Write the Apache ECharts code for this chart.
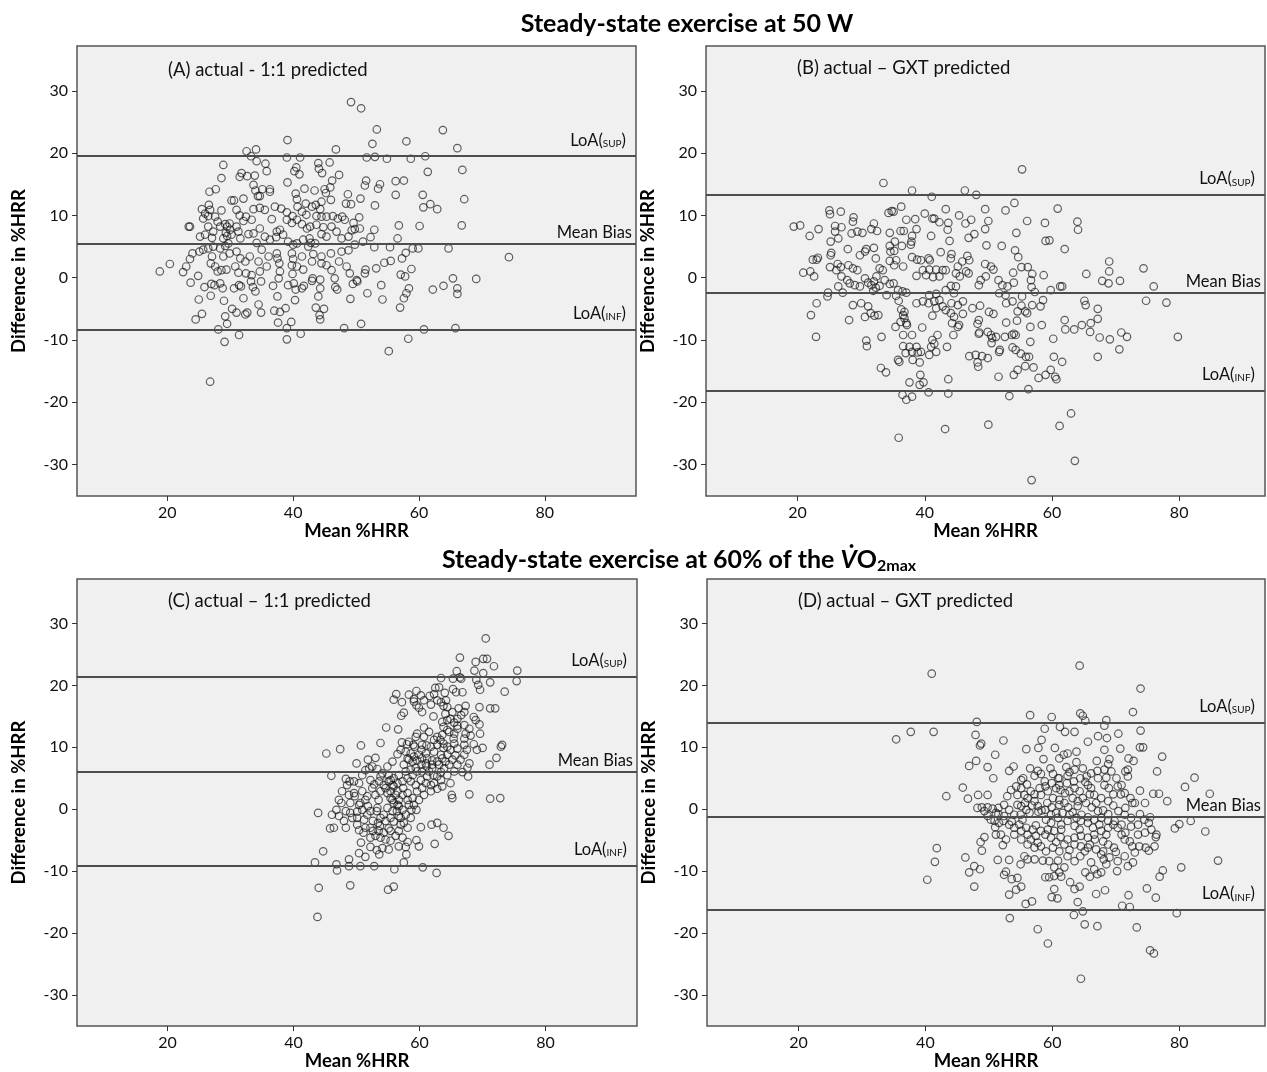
<!DOCTYPE html>
<html><head><meta charset="utf-8">
<script src="https://cdn.jsdelivr.net/npm/echarts@6/dist/echarts.min.js"></script>
<style>html,body{margin:0;padding:0;background:#fff}#c{width:1267px;height:1072px}</style>
</head><body><div id="c"></div>
<script>
// ---------- DATA ----------
const titleTop = 'Steady-state exercise at 50 W';
const panelTitles = ['(A) actual - 1:1 predicted', '(B) actual \u2013 GXT predicted', '(C) actual \u2013 1:1 predicted', '(D) actual \u2013 GXT predicted'];
const xTicks = [20, 40, 60, 80];
const yTicks = [-30, -20, -10, 0, 10, 20, 30];
const lineNames = ['sup', 'mean', 'inf'];
const linesA = [19.5, 5.5, -8.3];
const linesB = [13.3, -2.4, -18.1];
const linesC = [21.4, 6.1, -9.1];
const linesD = [14.0, -1.2, -16.3];

// [mean %HRR, difference in %HRR]
const panelA = [
[49.2,28.2],[50.8,27.2],[53.3,23.8],[52.6,21.5],[58.0,21.9],[39.1,22.1],[63.8,23.7],[66.1,20.8],[66.9,17.3],[67.2,12.6],[66.8,8.4],[64.7,4.7],[74.3,3.3],[69.1,-0.2],[65.4,-0.1],
[66.1,-1.7],[66.1,-2.6],[63.9,-1.3],[62.2,-1.9],[65.8,-8.1],[60.8,-8.3],[58.3,-9.8],[55.2,-11.8],[57.0,-4.8],[57.6,-3.3],[58.0,-2.5],[58.4,-1.7],[54.2,-3.5],[54.0,-1.2],[51.8,-2.5],[49.1,-3.4],[50.8,-7.4],[48.1,-8.1],[47.0,-1.9],[46.7,-1.5],[44.9,-5.0],[44.3,-6.7],[44.2,-6.0],[43.6,-4.8],[44.0,-3.0],[44.3,-1.7],[41.2,-9.0],[39.0,-9.9],[39.0,-8.1],[39.7,-7.1],[37.6,-7.2],[37.9,-5.5],[38.8,-4.9],[37.0,-5.3],[37.5,-3.0],[40.3,-3.6],[34.9,-5.6],[34.5,-4.3],[32.4,-5.9],[32.7,-5.6],[31.0,-5.6],[30.3,-5.0],[32.1,-3.3],[34.0,-2.2],[31.4,-9.2],[29.5,-7.4],[29.2,-6.2],[29.0,-3.7],[29.1,-10.3],[28.1,-8.3],[26.8,-16.7],[26.9,-2.9],[25.0,-3.5],[25.5,-5.8],[24.5,-6.7],[23.7,-0.8],
[25.9,-1.5],[27.0,-1.0],[27.5,-1.2],[28.4,-0.9],[28.8,-1.7],[30.6,-1.7],[31.4,-1.2],[31.7,-1.4],[33.3,-0.6],[33.6,-1.5],[34.9,-0.6],[36.8,-1.3],[39.2,-1.2],[40.1,-0.9],[40.4,-1.9],[41.4,-1.7],[41.7,-1.3],[43.0,-0.5],[50.2,-0.6],[49.5,-1.0],
[32.6,20.3],[34.1,20.6],[33.3,19.5],[34.2,18.7],[28.9,18.1],[35.6,18.3],[35.8,17.1],[39.0,19.3],[41.1,19.3],[46.8,20.6],[44.0,18.4],[45.8,18.5],[44.1,17.5],[44.6,16.8],[47.3,16.5],[40.2,17.1],[40.5,17.7],[41.0,16.6],[51.7,19.3],[53.0,19.4],[54.9,19.1],[58.7,19.1],[61.0,19.5],[61.4,17.0],[28.6,16.0],[31.5,16.2],[31.8,16.8],[32.7,16.3],[33.9,16.4],[56.3,15.5],[57.6,15.6],[51.6,15.6],[53.8,15.0],[53.5,14.3],[51.4,14.8],[39.1,15.3],[46.2,15.6],
[26.7,13.8],[27.7,14.2],[33.7,14.9],[34.0,14.0],[35.1,14.2],[36.3,14.2],[36.3,13.8],[34.4,13.1],[34.7,13.1],[41.8,14.3],[43.4,14.0],[45.0,14.2],[45.2,13.6],[45.9,14.5],[46.0,12.5],[44.5,12.2],[48.7,13.4],[50.7,12.7],[48.4,11.9],[49.2,11.8],[56.3,13.3],[60.6,13.3],[60.7,11.3],[61.8,11.8],[62.9,11.0],[53.0,11.6],[40.4,13.5],[40.6,12.6],[42.0,11.9],[43.6,11.7],[44.3,11.0],[30.2,12.4],[30.6,12.4],[32.1,12.7],[26.6,11.7],[25.5,11.0],
[23.6,8.2],[23.4,8.2],[26.0,10.3],[26.5,9.9],[26.8,10.9],[25.7,9.5],[27.6,9.8],[28.6,10.8],[28.0,9.0],[28.4,8.2],[29.2,8.6],[29.5,8.2],[29.9,8.7],[30.0,7.7],[29.3,7.2],[28.9,6.3],[29.5,6.7],[30.2,6.9],[25.2,6.6],[26.0,6.9],[27.1,6.4],[26.5,8.2],[27.3,7.4],[31.0,10.9],[31.5,10.0],[32.1,9.1],[32.5,9.8],[33.4,9.3],[31.0,8.2],[31.3,7.4],[31.6,6.3],[32.9,7.0],[33.7,7.1],[34.2,5.6],[34.7,7.9],[33.7,11.0],[34.7,11.2],[35.5,10.9],[36.6,9.4],[37.1,11.4],[38.1,11.1],[39.0,10.5],[39.9,9.9],[40.7,11.4],[41.4,10.6],[42.1,10.1],[43.0,11.4],[43.7,9.9],[44.5,9.8],[45.3,9.8],[46.3,9.9],[47.1,9.5],[47.8,9.8],[48.2,9.3],[49.6,8.8],[50.5,9.7],[50.6,7.9],[49.8,7.8],[49.3,7.6],[48.8,6.6],[47.7,6.3],[46.9,7.4],[46.1,8.2],[44.8,8.1],[43.7,8.5],[42.7,8.2],[42.2,7.9],[41.4,8.6],[40.6,9.3],[39.8,8.8],[39.0,9.3],[37.9,7.7],[37.4,7.4],[38.4,6.9],[37.3,6.5],[36.3,6.1],[35.5,6.6],[39.2,5.8],[40.0,5.3],[40.6,5.5],[42.6,6.3],[42.8,5.6],[42.4,5.0],[41.6,6.1],[44.5,7.0],[45.3,6.6],[43.5,5.5],[52.9,7.7],[52.3,6.5],[52.9,4.9],[56.8,8.4],[56.6,6.3],[60.1,8.3],[55.4,4.9],[59.0,4.7],[59.9,4.7],[51.1,5.8],[49.8,5.3],[48.8,4.4],[47.7,4.2],
[18.8,1.0],[20.4,2.2],[22.5,0.9],[23.0,1.8],[23.6,3.0],[24.0,3.9],[24.9,0.3],[25.1,4.2],[25.7,4.5],[26.5,4.7],[27.3,5.0],[28.4,4.7],[29.2,5.1],[29.7,5.5],[26.9,2.3],[27.6,1.8],[28.0,1.0],[28.6,1.2],[27.1,3.4],[28.9,3.4],[29.9,3.9],[31.0,4.2],[31.6,3.1],[32.4,2.6],[30.8,1.8],[29.4,1.3],[31.3,0.8],[32.5,0.7],[33.4,0.4],[33.1,3.4],[34.5,2.6],[35.0,4.5],[36.1,3.4],[35.8,1.8],[34.7,1.0],[37.4,3.9],[37.5,3.1],[37.8,2.3],[37.9,1.0],[37.7,-0.1],[39.8,3.9],[40.0,3.0],[39.8,2.0],[40.6,1.8],[39.9,0.6],[41.6,1.3],[41.4,3.4],[43.0,2.6],[43.2,3.8],[44.5,3.4],[44.5,2.3],[45.3,2.0],[46.1,1.2],[46.6,-0.1],[46.0,3.9],[47.3,2.6],[48.5,1.8],[49.0,0.7],[50.1,-0.4],[51.5,1.3],[51.4,0.7],[53.2,1.5],[54.5,2.4],[55.5,2.7],[57.3,3.1],[57.9,4.0],[58.8,1.4],[57.1,0.5],[57.8,0.2],[43.1,-0.1],[44.3,-0.3]
];

const panelB = [
[55.3,17.4],[64.0,9.0],[64.1,7.7],[69.0,2.6],[69.0,1.0],[67.9,-0.5],[68.9,-0.9],[70.7,-0.5],[65.4,0.6],[74.4,1.5],[76.0,-1.4],[74.8,-3.7],[78.0,-4.0],[79.8,-9.5],[71.8,-9.5],[70.9,-8.8],[70.6,-11.5],[69.1,-9.9],[67.2,-5.0],[67.2,-6.6],[67.2,-12.7],[67.5,-9.6],[66.1,-7.3],[66.0,-8.7],[64.7,-7.6],[63.5,-8.3],[65.1,-3.7],[65.3,-4.4],[63.6,-29.4],[63.0,-21.8],[61.2,-23.8],[56.8,-32.5],[50.0,-23.6],[43.2,-24.3],[35.9,-25.7],
[33.5,15.2],[38.0,14.0],[41.1,13.0],[46.3,14.0],[48.1,13.3],[36.3,11.4],[34.8,10.7],[34.3,10.4],[35.1,10.6],[25.0,10.8],[25.1,10.2],[26.8,10.6],[28.8,9.7],[28.7,9.0],[19.4,8.2],[20.4,8.4],[23.3,7.8],[21.9,6.7],[25.9,8.3],[26.9,8.1],[25.9,7.4],[26.4,6.3],[25.2,5.8],[28.5,7.1],[29.4,7.4],[30.2,7.2],[32.0,8.7],[32.5,7.5],[31.6,7.8],[34.5,7.2],[36.2,7.5],[36.7,7.5],[37.1,9.3],[38.5,9.4],[38.7,7.8],[40.0,10.3],[41.2,9.5],[41.5,9.5],[42.3,8.9],[43.3,11.0],[43.7,8.8],[43.6,7.7],[41.0,6.7],[45.4,10.0],[46.4,8.7],[47.3,9.3],[46.9,6.4],[47.8,7.0],[49.5,11.0],[50.0,9.1],[49.5,7.8],[52.7,10.8],[54.1,12.0],[56.1,9.1],[58.9,8.8],[54.4,7.2],[60.9,11.1],[59.0,5.9],[59.6,6.0],[62.0,4.6],[52.1,5.1],[54.2,4.4],[54.7,3.3],[49.7,5.2],[43.9,5.9],[38.0,6.7],[37.9,5.8],[37.8,5.3],[35.3,5.8],[34.5,5.1],[36.4,5.1],[34.6,4.2],[35.2,4.3],[32.0,4.8],[30.8,4.6],[30.6,4.2],[29.8,3.6],[32.3,3.1],[27.9,4.6],[25.3,4.0],[25.2,3.6],[23.2,3.2],[22.4,2.9],[23.0,2.9],[25.1,1.7],[26.3,2.2],[26.8,1.7],[20.9,0.8],[22.0,1.0],[22.6,0.2],[28.0,2.0],[28.7,1.5],[29.4,1.2],[32.9,1.5],[33.4,1.2],[34.5,2.7],[35.2,2.0],[35.5,2.8],[36.6,1.8],[38.0,3.3],[38.8,2.9],[39.4,2.8],[40.6,3.1],[40.8,2.8],[42.5,4.1],[44.2,3.8],[44.1,3.1],[45.9,2.6],[46.7,3.5],[47.0,2.8],[39.7,1.2],[40.7,1.3],[41.8,1.3],[42.8,1.2],[43.3,1.2],[38.7,0.3],[40.2,0.4],[41.3,0.1],[42.3,0.2],[45.2,1.8],[44.9,0.7],[45.5,0.2],[46.5,1.0],[46.9,0.7],[48.8,-0.4],[48.5,-1.2],[49.5,2.2],[50.4,1.8],[50.8,1.3],[49.6,0.2],[51.6,-0.4],[52.2,-1.2],[53.0,-1.4],[54.0,-0.8],[53.9,0.8],[55.2,1.7],[56.2,1.7],[56.9,0.6],[56.7,-0.4],[58.7,0.4],[56.8,-1.5],[57.3,-2.3],[59.8,-2.0],[61.3,-1.4],[61.6,-1.4],[26.1,1.2],[26.9,0.2],[27.8,-0.4],[28.2,-0.9],[26.4,-1.4],[27.1,-2.4],[24.8,-2.4],[24.7,-3.0],[23.0,-4.1],[22.1,-6.0],[22.9,-9.5],[29.0,-1.2],[29.8,-1.4],[30.6,-0.1],[31.1,-0.8],[31.6,-1.2],[32.0,-0.6],[32.4,0.2],[32.3,-1.6],[31.9,-2.1],[32.9,-1.3],[33.7,-0.4],[34.5,-1.0],[35.1,-0.9],[35.8,-2.0],[36.5,-2.2],[37.1,-2.4],[34.0,-2.8],[35.5,-2.9],[35.9,-3.7],[28.7,-4.4],[30.0,-4.1],[31.1,-4.6],[28.1,-6.8],[30.6,-6.3],[31.5,-5.7],[32.1,-6.1],[32.7,-6.0],[33.2,-9.5],[30.8,-10.1],[30.9,-11.0],[35.4,-7.9],[36.2,-7.1],[36.8,-6.5],[36.3,-5.1],[36.8,-5.5],[36.6,-6.0],[37.1,-7.3],[37.2,-7.6],[36.6,-9.2],[38.0,-9.2],[36.6,-11.0],[37.6,-11.1],[38.7,-11.1],[37.0,-12.1],[38.0,-11.9],[38.9,-12.0],[39.4,-11.9],[35.8,-13.2],[36.0,-13.5],[38.1,-13.2],[39.2,-13.6],[33.1,-14.5],[33.9,-15.2],[37.6,-16.8],[39.3,-15.6],[39.8,-16.8],[39.2,-17.2],[36.5,-18.8],[37.1,-19.6],[38.0,-19.1],[40.6,-18.4],[43.7,-18.6],[43.7,-16.3],[39.6,-8.0],[41.2,-6.1],[42.0,-9.2],[41.2,-10.0],[41.5,-10.6],[41.0,-11.1],[40.7,-12.4],[41.8,-11.9],[43.5,-11.1],[38.7,-4.1],[39.7,-3.8],[40.6,-4.1],[41.5,-3.8],[42.3,-3.6],[40.7,-2.8],[41.8,-2.6],[43.3,-2.0],[44.1,-1.3],[44.9,-1.4],[44.6,-2.5],[41.8,-4.9],[42.8,-4.6],[43.3,-5.2],[44.2,-4.1],[45.2,-4.4],[46.0,-3.8],[44.1,-5.7],[44.6,-6.3],[44.3,-7.3],[45.2,-7.9],[45.4,-7.6],[44.5,-9.2],[46.0,-5.8],[47.5,-4.9],[48.7,-4.5],[50.1,-5.5],[50.8,-5.8],[48.5,-6.8],[48.3,-7.4],[48.6,-8.8],[48.5,-9.0],[49.9,-8.7],[50.4,-9.2],[50.6,-9.7],[51.2,-9.5],[50.5,-10.5],[51.7,-11.9],[51.8,-11.6],[47.0,-12.6],[48.0,-12.4],[49.0,-12.6],[49.9,-12.9],[48.3,-13.6],[48.4,-14.3],[51.6,-15.9],[53.7,-9.2],[54.0,-9.0],[54.3,-9.2],[53.8,-11.2],[54.3,-11.6],[52.8,-7.2],[54.5,-6.9],[52.6,-9.5],[51.7,-2.5],[52.7,-2.8],[52.8,-4.1],[53.8,-3.8],[55.3,-3.0],[55.2,-4.5],[54.6,-5.4],[55.8,-5.4],[56.1,-5.7],[56.6,-7.9],[56.9,-4.4],[58.2,-4.6],[58.6,-3.6],[58.4,-7.6],[60.2,-9.8],[55.1,-12.2],[55.9,-12.7],[56.4,-12.7],[56.6,-10.3],[54.6,-14.8],[54.0,-15.6],[57.1,-14.4],[55.8,-14.2],[57.9,-16.1],[59.0,-15.6],[59.8,-14.8],[60.5,-15.9],[60.7,-16.3],[61.6,-13.5],[60.3,-12.7],[62.0,-6.8],[62.1,-8.3],[56.3,-17.9],[53.3,-19.0]
];

const panelC = [
[43.8,-17.4],[44.0,-12.7],[49.0,-12.3],[55.0,-13.0],[55.9,-12.5],
[70.5,27.6],[66.4,24.5],[68.9,23.8],[70.1,24.3],[70.7,24.3],[71.8,23.1],[68.7,22.4],[70.1,22.0],[65.9,22.3],[66.4,21.3],[66.6,21.1],[75.5,22.4],[75.4,20.7],[63.4,21.2],[65.3,21.1],[69.0,20.9],[69.3,20.1],[69.6,19.3],[71.2,20.5],[73.5,19.0],[62.5,19.6],[63.1,19.7],[64.0,18.8],[65.3,19.4],[65.8,18.9],[66.8,18.9],[59.5,19.1],[56.3,18.6],[55.9,17.7],[57.2,17.3],[59.1,17.4],[59.5,16.8],[59.9,16.4],[60.4,15.7],[61.6,18.3],[61.8,16.9],[63.4,17.3],[64.2,17.6],[63.8,16.7],[66.2,16.3],[67.3,16.7],[69.5,16.5],[71.2,16.3],[72.0,16.3],[57.1,15.1],[57.5,15.6],[62.2,15.0],[64.1,15.4],[64.4,14.4],[64.9,14.6],[65.5,14.0],[66.0,13.5],[63.6,14.1],[63.8,13.3],[64.4,12.8],[67.1,13.6],[67.9,13.0],[67.3,12.2],[68.1,11.9],[67.1,11.4],[68.6,14.9],[68.9,14.4],[69.5,13.7],[69.6,12.2],[54.7,13.2],[56.6,12.9],[60.7,13.2],[61.5,12.5],[62.8,11.7],[63.3,11.2],[65.5,12.2],[65.4,11.4],[53.8,10.7],[50.7,10.3],[45.2,9.0],[47.4,9.7],[57.2,10.8],[58.0,10.5],[59.0,10.4],[59.4,11.7],[60.4,10.4],[61.1,10.3],[61.8,10.1],[62.8,10.4],[63.8,9.9],[64.4,10.1],[65.5,10.6],[66.0,9.8],[67.1,10.4],[67.5,9.6],[67.1,8.8],[68.6,10.5],[69.1,9.6],[70.0,9.9],[73.1,10.4],[72.9,10.1],[72.2,8.3],[71.1,7.2],[67.9,7.4],[67.6,6.7],[66.8,6.0],[67.7,5.3],[67.9,2.4],[71.2,1.7],[72.8,1.8],[50.0,7.4],[51.8,8.0],[53.0,8.3],[51.4,6.3],[52.5,6.9],[53.3,6.5],[46.0,5.4],[48.3,4.9],[48.9,4.5],[50.4,4.2],[52.2,4.7],[54.1,5.8],[54.9,6.9],[55.7,7.7],[56.5,8.9],[54.3,3.9],[55.1,4.5],[55.9,5.0],[56.7,5.5],[57.5,7.2],[58.3,8.0],[59.1,8.5],[59.9,8.8],[57.8,6.1],[58.6,6.4],[59.4,6.7],[60.3,7.2],[61.0,7.4],[61.5,6.1],[62.2,5.5],[62.8,5.3],[63.4,6.0],[63.9,6.6],[64.7,7.2],[65.2,8.0],[58.6,4.5],[59.4,3.9],[60.2,4.7],[61.0,4.2],[61.8,3.9],[62.8,3.3],[63.6,3.7],[64.9,4.2],[65.1,2.3],[65.2,1.8],[55.4,2.9],[56.2,2.3],[56.7,1.5],[55.9,1.0],[57.4,3.4],[58.1,2.6],[58.9,1.8],[59.5,-0.1],[58.3,0.7],[58.7,-0.1],[57.8,-0.9],[57.0,-1.4],[57.5,-2.2],[58.1,-3.0],[55.4,-1.4],[55.9,-2.0],[55.1,-3.1],[53.3,0.2],[53.2,-0.3],[53.4,-2.2],[53.7,-2.7],[51.7,-0.9],[50.9,-0.1],[50.1,-0.4],[51.2,-1.7],[49.6,2.6],[49.7,2.1],[49.0,1.0],[47.2,1.5],[47.6,1.0],[46.8,-0.1],[48.3,-0.3],[49.0,-0.6],[50.4,0.7],[51.8,0.5],[43.9,-0.6],[45.8,-3.1],[46.4,-3.0],[48.3,-3.0],[50.1,-2.5],[50.4,-3.4],[51.1,-3.8],[52.2,-4.6],[53.0,-4.3],[53.8,-4.6],[54.6,-4.9],[55.4,-5.1],[56.2,-4.3],[56.7,-3.5],[57.3,-4.6],[50.7,-5.4],[52.2,-6.1],[53.2,-6.6],[54.1,-6.3],[53.6,-7.3],[55.1,-6.5],[56.7,-6.0],[57.8,-6.1],[58.1,-5.3],[59.5,-5.0],[59.9,-6.0],[60.2,-2.9],[61.9,-2.5],[62.8,-2.2],[63.8,-3.0],[64.6,-4.3],[62.4,-5.6],[44.7,-6.8],[50.4,-7.1],[51.4,-7.7],[57.9,-7.3],[57.5,-8.6],[43.4,-8.6],[46.8,-8.9],[46.9,-9.9],[48.8,-8.1],[48.8,-9.2],[50.6,-9.2],[52.8,-9.2],[56.0,-9.7],[60.5,-9.4],[62.7,-10.3],
[57.0,9.6],[57.8,9.3],[58.6,9.0],[58.1,8.2],[58.9,7.7],[59.6,7.9],[60.4,8.2],[61.2,8.2],[62.0,7.9],[62.8,7.7],[63.6,8.2],[64.4,8.8],[55.1,5.5],[55.9,3.7],[56.5,2.9],[57.3,2.3],[58.1,1.5],[55.4,1.8],[56.7,0.5],[60.4,6.1],[61.2,5.3],[62.0,6.6],[52.5,3.4],[53.0,2.3],[53.5,1.5],[53.8,2.9],[50.9,2.9],[51.7,2.1],
[58.3,10.9],[59.2,10.1],[60.3,9.6],[61.0,9.0],[62.3,9.3],[63.4,8.8],[64.1,7.7],[63.1,7.2],[62.0,7.2],[61.1,6.9],[59.6,6.1],[58.9,5.5],[58.1,5.0],[57.3,4.5],[56.5,4.2],[55.7,3.9],[55.4,4.7],[54.6,3.4],[54.9,2.6],[55.7,1.5],[56.5,0.7],[57.3,-0.1],[56.4,-0.3],[55.7,-0.3],[54.9,0.2],[54.3,-0.9],[54.6,-1.9],[53.8,-1.4],[52.6,-1.9],[52.2,-3.0],[51.4,-3.0],[52.6,-3.5],[53.5,-3.5],[54.3,-3.8],[55.4,-3.5],[57.0,-2.5],[56.7,-1.1],[58.6,-1.4],[59.1,0.7],[59.9,1.5],[60.7,2.3],[61.8,2.9],[62.3,4.2],[60.4,3.4],[59.6,2.9],[63.4,4.7],[64.4,5.5],[65.5,6.1],[66.0,7.2],[66.5,8.0],[65.7,8.7],[64.9,9.6],[63.8,10.6],[62.3,11.2],[60.7,11.7],[59.6,12.2],[63.6,12.0],[64.7,12.5],[66.0,13.0],[66.0,14.6],[66.6,15.2],[67.1,15.7],[65.2,15.7],[64.4,16.5],[62.8,17.6],[62.3,18.6],[60.7,17.6],[60.2,18.4],[59.1,17.8],[58.3,18.5],[52.0,6.6],[50.9,5.5],[49.6,4.5],[48.5,3.9],[47.7,2.9],[48.8,2.3],[50.6,1.0],[50.1,-1.4],[52.2,-0.3],[51.4,1.5],[52.8,4.0],[53.6,4.5],[53.8,5.3],[49.3,-1.4],[48.0,-1.9],[47.2,-1.1],[46.1,-0.9]
];

const panelD = [
[41.0,21.9],[64.3,23.2],[35.4,11.3],[37.7,12.5],[64.5,-27.4],[75.4,-22.8],[76.0,-23.3],
[73.9,19.5],[56.5,15.2],[59.9,14.9],[64.4,15.5],[64.8,15.1],[65.2,14.3],[72.7,15.7],[68.5,14.4],[68.2,13.5],[48.1,14.1],[41.3,12.5],[47.9,12.0],[58.8,13.0],[61.2,13.3],[62.0,12.5],[63.5,12.5],[67.2,11.8],[68.6,11.5],[70.4,12.2],[73.9,12.7],[48.8,10.6],[48.6,10.3],[52.3,11.1],[58.3,11.2],[65.6,10.9],[55.9,9.7],[57.8,9.9],[60.4,9.9],[70.7,9.8],[68.2,9.6],[73.8,10.0],[74.3,10.0],[51.0,8.8],[61.1,8.2],[61.8,8.8],[62.4,9.0],[58.6,8.1],[63.8,9.3],[63.8,7.6],[67.0,7.8],[69.0,8.1],[68.8,7.3],[72.0,8.2],[72.8,7.8],[77.3,8.5],[46.9,7.0],[48.0,7.8],[49.8,6.8],[53.2,6.2],[53.9,6.9],[56.5,6.6],[57.7,6.2],[58.2,5.7],[59.7,6.6],[60.1,5.7],[60.9,5.0],[62.2,6.8],[62.7,6.0],[67.1,6.2],[68.2,6.4],[68.5,5.1],[71.5,6.1],[71.9,6.4],[71.9,5.3],[76.5,6.1],[50.7,5.0],[55.4,5.0],[57.2,5.4],[65.4,5.3],[65.2,4.4],[82.4,5.1],[80.9,3.6],[84.8,2.5],[45.9,3.5],[43.3,2.1],[46.7,1.7],[48.3,2.3],[49.8,2.3],[52.9,2.1],[53.5,3.1],[54.3,3.7],[55.1,3.4],[56.0,4.0],[55.6,2.3],[56.6,2.9],[57.2,2.4],[58.0,3.4],[58.9,3.7],[59.3,2.9],[60.6,3.4],[61.3,3.1],[62.0,2.6],[62.7,2.9],[63.5,3.4],[64.3,2.9],[65.6,3.9],[66.1,3.4],[66.6,2.3],[65.9,2.4],[68.2,3.9],[68.9,3.4],[69.6,2.4],[70.3,3.7],[70.8,2.4],[72.6,1.0],[73.0,1.0],[73.8,3.0],[74.6,1.0],[75.9,2.5],[76.8,2.5],[78.1,1.3],[48.9,0.3],[49.8,0.3],[50.6,0.1],[51.1,-0.6],[51.5,-0.8],[52.4,-1.1],[53.6,-2.0],[52.3,-1.9],[50.9,-1.9],[51.0,-2.9],[55.1,0.5],[55.9,-0.1],[56.4,-0.6],[57.2,1.3],[57.7,0.5],[58.3,-0.2],[55.0,-0.9],[55.3,-1.7],[59.2,1.0],[59.9,0.3],[60.6,-0.6],[61.1,0.7],[61.9,1.0],[62.5,0.3],[63.2,-0.5],[64.0,0.5],[64.6,-0.9],[65.3,1.0],[66.2,0.3],[67.2,-0.3],[68.0,-0.2],[68.8,-0.8],[69.6,0.6],[70.4,-0.3],[71.4,-0.9],[73.8,-0.8],[74.5,-1.7],[75.2,-2.2],[75.4,-1.3],[79.3,-3.1],[80.0,-2.4],[81.8,-1.9],[84.1,-3.6],[51.1,-4.1],[51.9,-4.1],[48.7,-5.3],[49.3,-4.5],[48.9,-6.7],[52.2,-5.8],[52.7,-4.9],[41.8,-6.3],[41.5,-8.5],[40.3,-11.4],[46.3,-7.8],[47.7,-9.2],[46.9,-10.2],[48.6,-9.7],[47.7,-12.5],[51.4,-8.2],[53.2,-8.2],[52.7,-10.1],[52.4,-10.6],[53.6,-11.3],[54.5,-11.1],[53.2,-13.8],[54.3,-13.0],[55.1,-12.5],[55.8,-15.3],[56.8,-14.9],[53.3,-17.6],[57.7,-19.4],[59.3,-21.7],[55.1,-3.5],[56.1,-4.1],[56.9,-3.3],[57.4,-2.6],[56.6,-4.9],[57.7,-5.4],[58.2,-6.0],[58.9,-4.1],[59.8,-4.6],[60.6,-5.3],[61.3,-4.5],[61.9,-5.7],[62.7,-6.6],[55.6,-7.6],[56.1,-8.1],[57.2,-8.1],[55.0,-8.9],[58.5,-8.3],[59.5,-8.4],[60.9,-8.3],[60.3,-9.4],[61.1,-10.2],[61.9,-9.4],[58.9,-11.0],[59.5,-11.0],[60.3,-10.8],[61.4,-10.9],[60.3,-12.9],[59.9,-14.2],[60.8,-14.4],[62.8,-11.8],[63.5,-12.9],[64.3,-12.5],[64.0,-15.0],[63.4,-17.1],[64.8,-16.5],[65.1,-18.6],[67.1,-18.9],[63.5,-8.4],[64.4,-7.6],[65.1,-6.8],[65.9,-5.7],[66.7,-4.9],[66.1,-8.6],[66.6,-9.7],[67.7,-10.2],[67.1,-10.5],[65.2,-10.2],[65.9,-10.9],[67.7,-7.3],[68.1,-8.1],[68.5,-8.9],[68.0,-5.2],[68.8,-5.7],[68.5,-4.1],[66.9,-13.7],[68.3,-13.1],[70.2,-10.0],[69.7,-6.2],[70.0,-6.9],[71.4,-7.6],[70.9,-4.1],[71.4,-4.9],[72.2,-5.2],[72.6,-6.0],[73.0,-7.0],[71.9,-9.2],[72.7,-8.6],[71.0,-15.6],[72.2,-15.8],[72.0,-13.9],[73.3,-19.1],[73.7,-6.0],[74.7,-6.2],[75.2,-6.7],[76.1,-6.0],[76.3,-4.5],[74.9,-12.8],[76.3,-14.3],[76.9,-10.9],[77.4,-9.9],[80.3,-9.4],[79.6,-16.8],[86.1,-8.3],
[59.0,-1.7],[59.8,-2.2],[61.4,-2.5],[62.4,-1.9],[63.5,-2.7],[64.3,-3.3],[65.6,-2.2],[66.4,-3.0],[67.4,-2.5],[68.8,-3.0],[69.8,-1.9],[70.9,-2.5],
[55.1,4.7],[54.5,2.3],[56.1,1.8],[54.5,0.7],[55.7,1.0],[56.8,0.6],[57.8,-0.4],[58.9,-0.1],[59.8,-0.9],[60.9,-1.4],[61.6,-0.6],[62.7,-0.9],[63.8,-1.4],[64.5,-1.9],[65.6,-1.3],[66.6,-1.7],[67.7,-1.4],[68.8,-1.9],[69.6,-2.5],[70.3,-3.0],[67.7,-3.5],[66.6,-4.1],[65.6,-4.6],[64.5,-4.3],[63.5,-4.6],[62.4,-4.9],[61.4,-3.3],[60.3,-3.5],[59.3,-3.3],[58.2,-3.5],[57.4,-4.3],[55.9,-3.0],[54.8,-2.5],[54.0,-3.0],[53.2,-2.5],[54.0,-4.1],[55.1,-4.9],[56.1,-5.7],[57.2,-6.2],[59.0,-6.8],[60.1,-6.2],[61.1,-6.8],[62.4,-7.6],[63.5,-5.7],[64.5,-6.0],[65.6,-6.2],[66.9,-6.5],[68.0,-6.8],[69.0,-7.8],[70.3,-8.4],[58.8,4.5],[59.9,4.2],[61.1,3.9],[62.3,4.2],[63.4,4.5],[64.4,5.0],[61.1,5.0],[62.4,5.4],[63.5,6.4],[64.8,6.6],[66.1,5.8],[67.2,5.0],[69.3,6.1],[70.1,5.0],[70.9,3.9],[71.4,2.6],[72.3,1.8],[71.5,0.2],[72.4,-1.4],[73.5,-2.5],[72.4,-2.8],[71.5,-3.8],[73.5,-4.1],[74.6,-3.8],[75.6,-3.3],[76.4,-4.1],[67.7,1.8],[68.8,1.3],[66.9,1.0],[64.8,1.8],[64.0,1.3],[63.2,1.8],[60.1,1.8],[61.1,1.5],[58.2,2.3],[52.4,0.7],[51.5,0.2],[53.2,-0.1],[54.0,-0.9],[51.6,-2.2],[49.8,-1.1],[49.3,-0.3],[48.2,0.2],[50.3,-1.7]
];

// ---------- CHART ----------
const FONT = 'Lato, "Open Sans", sans-serif';
const panels = [
  {data: panelA, lines: linesA, grid: {left: 77, top: 46, width: 559, height: 450}, xMin: 5.64, xMax: 94.5, labTop: 15},
  {data: panelB, lines: linesB, grid: {left: 706, top: 46, width: 559, height: 450}, xMin: 5.6, xMax: 93.5, labTop: 13},
  {data: panelC, lines: linesC, grid: {left: 77, top: 579, width: 560, height: 451}, xMin: 5.64, xMax: 94.5, labTop: 13},
  {data: panelD, lines: linesD, grid: {left: 707, top: 579, width: 558, height: 451}, xMin: 5.6, xMax: 93.5, labTop: 13}
];
const labelText = {
  sup: '{n|LoA(}{s|SUP}{n|)}',
  mean: '{n|Mean Bias}',
  inf: '{n|LoA(}{s|INF}{n|)}'
};
const rich = {
  n: {fontSize: 16.5, fontFamily: FONT, color: '#111', lineHeight: 20},
  s: {fontSize: 10, fontFamily: FONT, color: '#111', lineHeight: 20, padding: [7, 0, 0, 0]}
};

const option = {
  animation: false,
  backgroundColor: '#ffffff',
  title: [
    {text: titleTop, left: 682, top: 6, textAlign: 'center',
     textStyle: {fontFamily: FONT, fontWeight: 'bold', fontSize: 25, color: '#000'}},
    {text: '{b|Steady-state exercise at 60% of the }{i|V\u0307}{b|O}{sub|2max}', left: 674, top: 539, textAlign: 'center',
     textStyle: {rich: {
       b: {fontFamily: FONT, fontWeight: 'bold', fontSize: 25, color: '#000', lineHeight: 32},
       i: {fontFamily: FONT, fontWeight: 'bold', fontStyle: 'italic', fontSize: 25, color: '#000', lineHeight: 32},
       sub: {fontFamily: FONT, fontWeight: 'bold', fontSize: 16, color: '#000', lineHeight: 32, padding: [12, 0, 0, 0]}
     }}}
  ],
  graphic: [],
  grid: [], xAxis: [], yAxis: [], series: []
};

panels.forEach((p, i) => {
  option.grid.push(Object.assign({show: true, backgroundColor: '#f0f0f0', borderColor: '#555', borderWidth: 1.5}, p.grid));
  option.xAxis.push({
    gridIndex: i, type: 'value', min: p.xMin, max: p.xMax, position: 'bottom',
    name: 'Mean %HRR', nameLocation: 'middle', nameGap: 22,
    nameTextStyle: {fontFamily: FONT, fontWeight: 'bold', fontSize: 18.5, color: '#000'},
    axisLine: {show: false, onZero: false}, splitLine: {show: false},
    axisTick: {show: true, length: 5, inside: false, customValues: xTicks, lineStyle: {color: '#333'}},
    axisLabel: {customValues: xTicks, fontFamily: FONT, fontSize: 16, color: '#111', margin: 9}
  });
  option.yAxis.push({
    gridIndex: i, type: 'value', min: -35.05, max: 37.2, position: 'left',
    name: 'Difference in %HRR', nameLocation: 'middle', nameGap: 48, nameRotate: 90,
    nameTextStyle: {fontFamily: FONT, fontWeight: 'bold', fontSize: 18.5, color: '#000'},
    axisLine: {show: false, onZero: false}, splitLine: {show: false},
    axisTick: {show: true, length: 5, inside: false, customValues: yTicks, lineStyle: {color: '#333'}},
    axisLabel: {customValues: yTicks, fontFamily: FONT, fontSize: 16, color: '#111', margin: 9}
  });
  option.series.push({
    type: 'scatter', xAxisIndex: i, yAxisIndex: i, data: p.data,
    symbol: 'circle', symbolSize: 7.5,
    itemStyle: {color: 'rgba(0,0,0,0)', borderColor: 'rgba(15,15,15,0.82)', borderWidth: 1.2},
    silent: true,
    markLine: {
      silent: true, symbol: 'none', animation: false,
      lineStyle: {color: '#4d4d4d', width: 2, type: 'solid'},
      data: p.lines.map((v, k) => ({
        yAxis: v,
        label: {show: true, position: 'insideEndTop', formatter: labelText[lineNames[k]], rich: rich,
                distance: k === 1 ? [4, 1] : [10, 6]}
      }))
    }
  });
  option.graphic.push({
    type: 'text', left: p.grid.left + 91, top: p.grid.top + p.labTop,
    style: {text: panelTitles[i], fontFamily: FONT, fontSize: 18.5, fill: '#111'}
  });
});

const chart = echarts.init(document.getElementById('c'), null, {renderer: 'canvas'});
chart.setOption(option);
</script>
</body></html>
